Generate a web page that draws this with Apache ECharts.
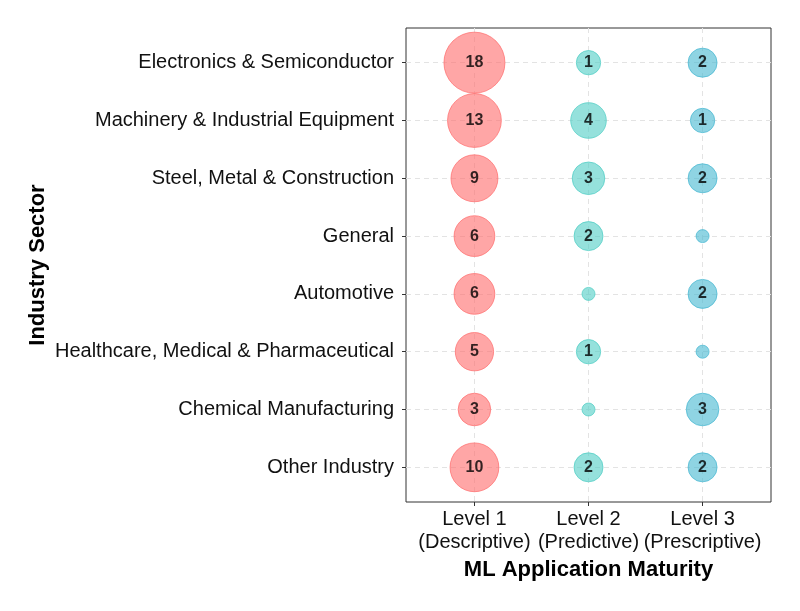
<!DOCTYPE html>
<html><head><meta charset="utf-8">
<script src="https://cdn.jsdelivr.net/npm/echarts@6/dist/echarts.min.js"></script>
<style>html,body{margin:0;padding:0;background:#fff}#c{width:800px;height:611px}</style>
</head><body><div id="c"></div>
<script>
const sectors = ["Electronics & Semiconductor","Machinery & Industrial Equipment","Steel, Metal & Construction","General","Automotive","Healthcare, Medical & Pharmaceutical","Chemical Manufacturing","Other Industry"];
const levels = ["Level 1\n(Descriptive)","Level 2\n(Predictive)","Level 3\n(Prescriptive)"];
const level1 = [18,13,9,6,6,5,3,10];
const level2 = [1,4,3,2,0,1,0,2];
const level3 = [2,1,2,0,2,0,3,2];
const colors = ["rgba(255,107,107,0.75)","rgba(78,205,196,0.75)","rgba(69,183,209,0.75)"];
const borders = ["rgba(255,107,107,0.9)","rgba(78,205,196,0.9)","rgba(69,183,209,0.9)"];
const maxV = 18;
function sz(v){ return 13 + 48*Math.sqrt(v/maxV); }
function mk(vals, li){
  return {
    type:'scatter',
    data: vals.map((v,i)=>[li+1, i+1, v]),
    symbolSize: d=>sz(d[2]),
    itemStyle:{color:colors[li], borderColor:borders[li], borderWidth:1},
    label:{show:true, position:'inside', formatter:p=>p.data[2]===0?'':String(p.data[2]),
      color:'#000', fontWeight:'bold', fontSize:16, fontFamily:'Liberation Sans', padding:[2,0,0,0]},
    emphasis:{disabled:true}
  };
}
const chart = echarts.init(document.getElementById('c'));
chart.setOption({
  animation:false,
  textStyle:{fontFamily:'Liberation Sans'},
  grid:{left:406, right:29, top:28, bottom:109, show:true, borderColor:'#333', borderWidth:1},
  xAxis:{type:'value', min:0.4, max:3.6,
    name:'ML Application Maturity', nameLocation:'middle', nameGap:56,
    nameTextStyle:{fontSize:22, fontWeight:'bold', color:'#000'},
    axisLine:{show:false},
    axisTick:{show:true, customValues:[1,2,3], length:4, lineStyle:{color:'#333'}},
    axisLabel:{customValues:[1,2,3], formatter:v=>levels[Math.round(v)-1], fontSize:20, color:'#111', lineHeight:23, margin:6},
    splitLine:{show:true, lineStyle:{color:'#e3e3e3', type:[5,4]}}
  },
  yAxis:{type:'value', min:0.4, max:8.6, inverse:true,
    name:'Industry Sector', nameLocation:'middle', nameGap:357,
    nameTextStyle:{fontSize:22, fontWeight:'bold', color:'#000'},
    axisLine:{show:false},
    axisTick:{show:true, customValues:[1,2,3,4,5,6,7,8], length:4, lineStyle:{color:'#333'}},
    axisLabel:{customValues:[1,2,3,4,5,6,7,8], formatter:v=>sectors[Math.round(v)-1], fontSize:20, color:'#111', margin:12, padding:[4,0,0,0]},
    splitLine:{show:true, lineStyle:{color:'#e3e3e3', type:[5,4]}}
  },
  series:[mk(level1,0), mk(level2,1), mk(level3,2)]
});
</script></body></html>
